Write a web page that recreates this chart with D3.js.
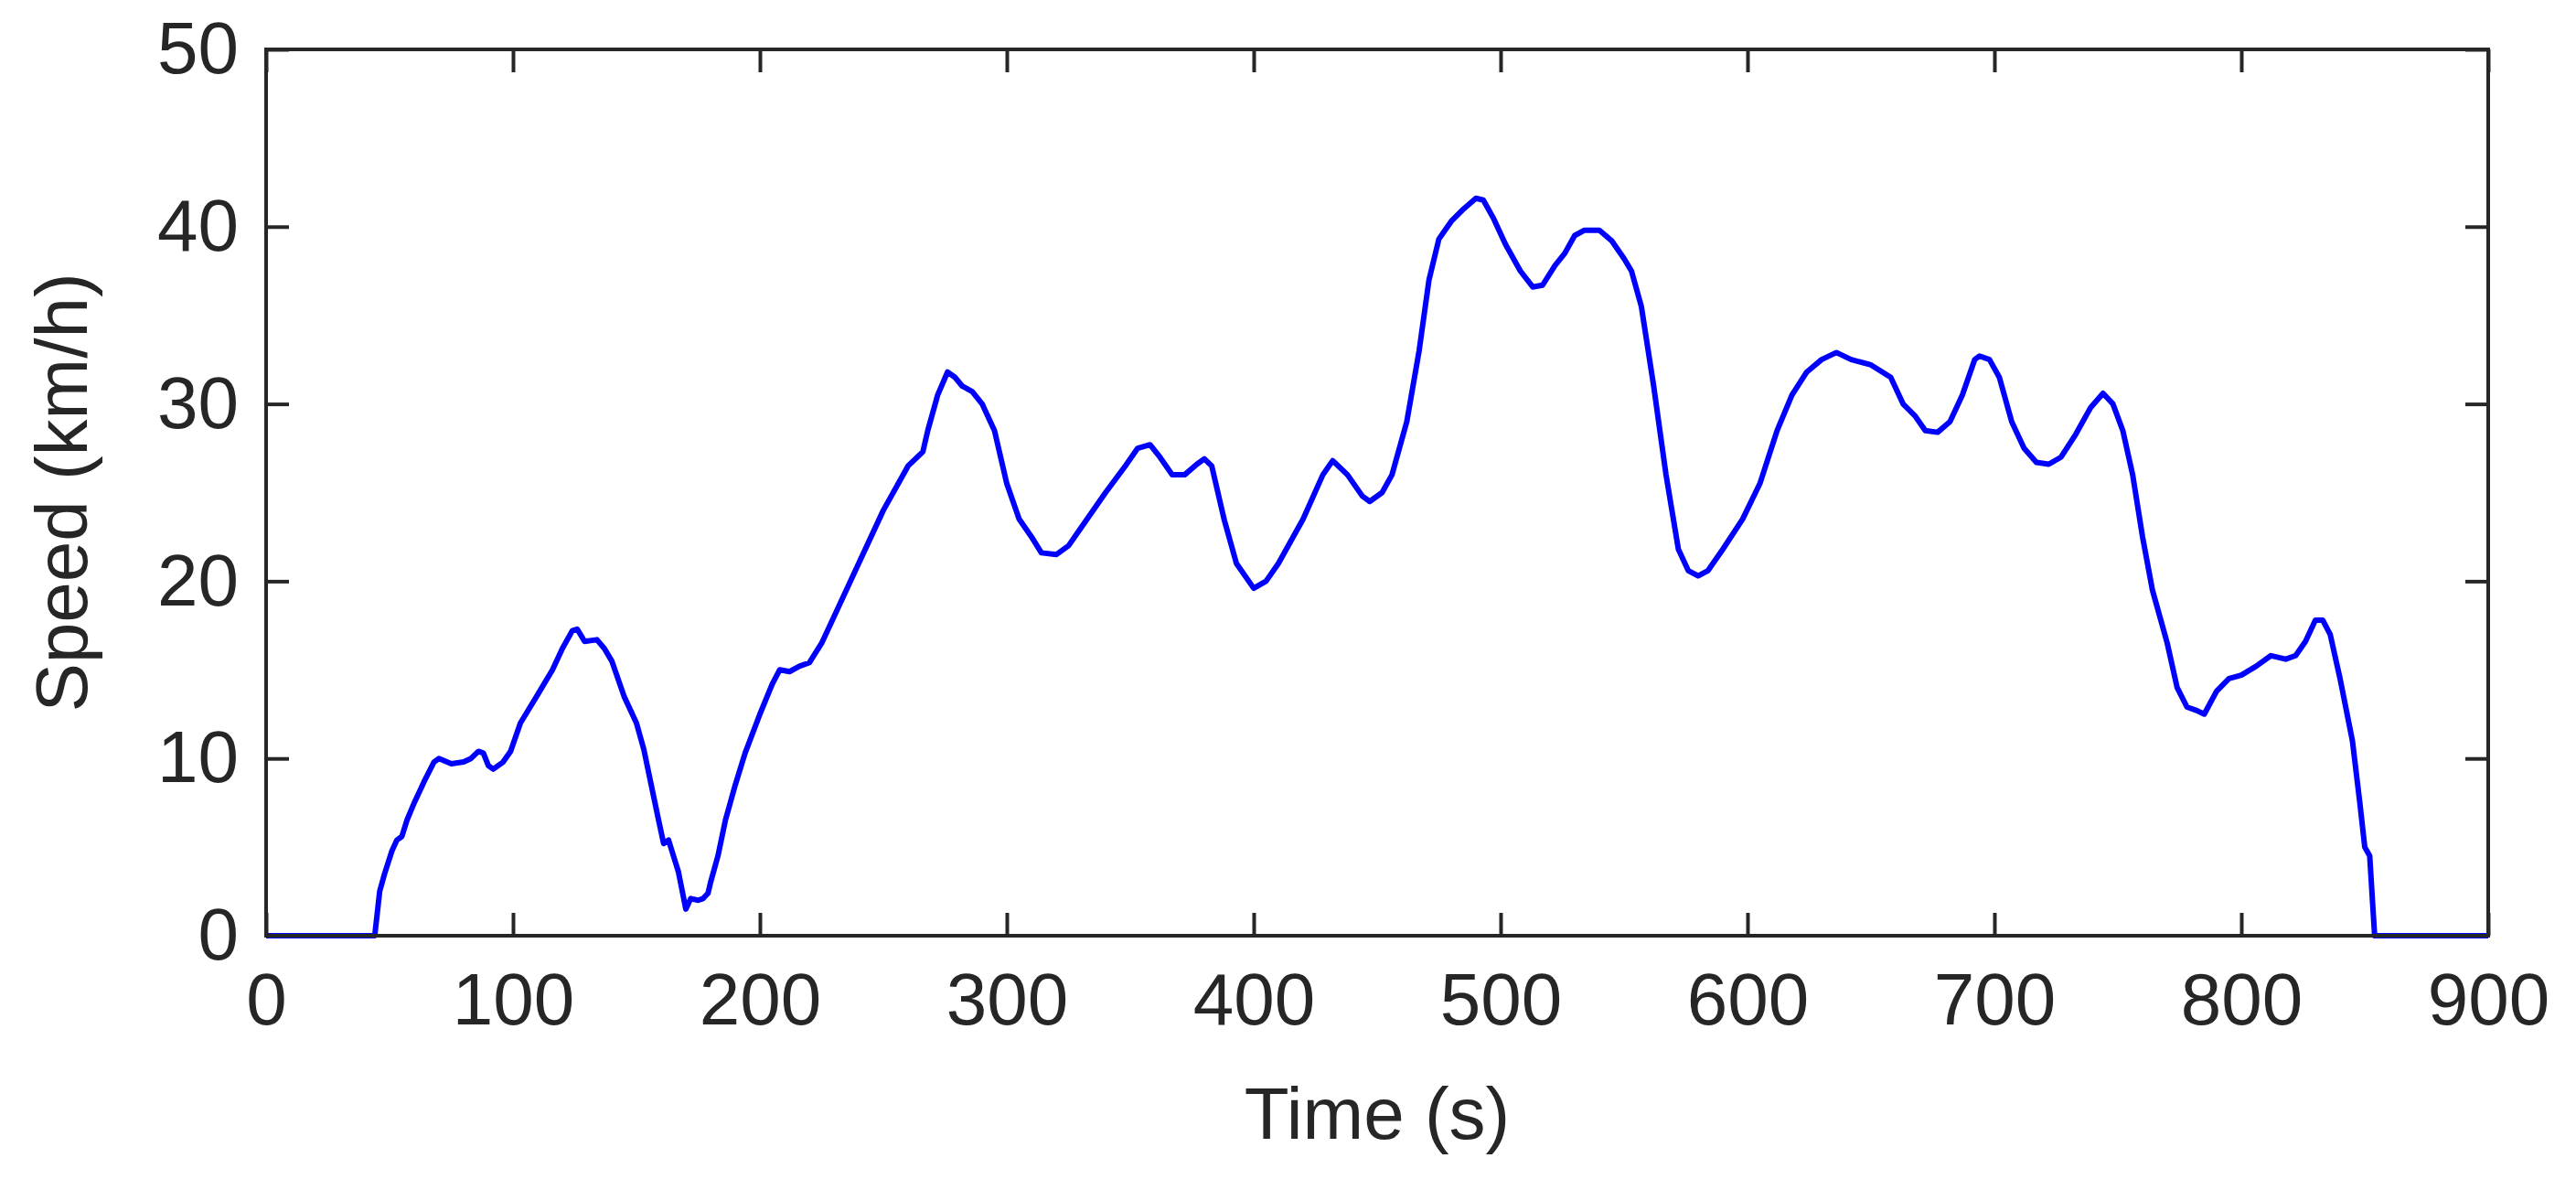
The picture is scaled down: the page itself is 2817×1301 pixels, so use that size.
<!DOCTYPE html><html><head><meta charset="utf-8"><script src="https://cdn.jsdelivr.net/npm/d3@7"></script>
<style>body{margin:0;background:#fff}text{font-family:"Liberation Sans",Arial,sans-serif;fill:#262626}</style></head><body><svg width="2817" height="1301"></svg><script>
const times=[0,44,46,48,51,53,55,57,60,64,68,70,75,80,83,86,88,90,92,96,99,103,110,116,120,124,126,129,134,137,140,145,150,153,156,159,161,163,165,167,170,172,175,177,179,180,183,186,190,194,200,205,208,212,216,220,225,230,240,250,260,266,268,272,276,279,282,286,290,295,300,305,310,314,320,325,330,340,348,353,358,362,367,372,377,380,383,388,393,400,405,410,420,428,432,438,444,447,452,456,462,467,471,475,480,485,490,493,497,502,508,513,517,522,526,530,534,540,545,550,553,557,562,567,572,576,580,584,590,598,605,612,618,624,630,636,642,650,658,663,668,672,677,682,687,692,694,698,702,707,712,717,722,727,733,739,744,748,752,756,760,764,767,770,774,778,782,785,790,795,800,806,812,818,822,826,830,833,836,840,845,848,850,852,854,900];
const speeds=[0,0,2.5,3.5,4.8,5.4,5.6,6.5,7.5,8.7,9.8,10,9.7,9.8,10,10.4,10.3,9.6,9.4,9.8,10.4,12,13.6,15,16.2,17.2,17.3,16.6,16.7,16.2,15.5,13.5,12,10.5,8.5,6.5,5.2,5.4,4.5,3.6,1.5,2.1,2,2.1,2.4,3,4.5,6.5,8.5,10.3,12.5,14.2,15,14.9,15.2,15.4,16.5,18,21,24,26.5,27.3,28.5,30.5,31.8,31.5,31,30.7,30,28.5,25.5,23.5,22.5,21.6,21.5,22,23,25,26.5,27.5,27.7,27,26,26,26.6,26.9,26.5,23.5,21,19.6,20,21,23.5,26,26.8,26,24.8,24.5,25,26,29,33,37,39.3,40.3,41,41.6,41.5,40.5,39,37.5,36.6,36.7,37.8,38.5,39.5,39.8,39.8,39.2,38.2,37.5,35.5,31,26,21.8,20.6,20.3,20.6,21.8,23.5,25.5,28.5,30.5,31.8,32.5,32.9,32.5,32.2,31.5,30,29.3,28.5,28.4,29,30.5,32.5,32.7,32.5,31.5,29,27.5,26.7,26.6,27,28.3,29.8,30.6,30,28.5,26,22.5,19.5,18,16.5,14,12.9,12.7,12.5,13.8,14.5,14.7,15.2,15.8,15.6,15.8,16.6,17.8,17.8,17,14.5,11,7.5,5,4.5,0,0];
const xTicks=[0,100,200,300,400,500,600,700,800,900];
const yTicks=[0,10,20,30,40,50];
const L=291,R=2721,T=54,B=1023;
const svg=d3.select("svg");
const x=d3.scaleLinear().domain([0,900]).range([L,R]);
const y=d3.scaleLinear().domain([0,50]).range([B,T]);
const ax=(g)=>g.call(s=>{s.select(".domain").remove();s.selectAll("line").attr("stroke","#262626").attr("stroke-width",4);});
svg.append("g").attr("transform",`translate(0,${B})`).call(d3.axisBottom(x).tickValues(xTicks).tickSize(-25).tickPadding(40)).call(ax).selectAll("text").attr("font-size",80).attr("fill","#262626");
svg.append("g").attr("transform",`translate(0,${T})`).call(d3.axisTop(x).tickValues(xTicks).tickSize(-25).tickFormat("")).call(ax);
svg.append("g").attr("transform",`translate(${L},0)`).call(d3.axisLeft(y).tickValues(yTicks).tickSize(-25).tickPadding(30)).call(ax).selectAll("text").attr("font-size",80).attr("fill","#262626");
svg.append("g").attr("transform",`translate(${R},0)`).call(d3.axisRight(y).tickValues(yTicks).tickSize(-25).tickFormat("")).call(ax);
svg.selectAll(".tick text").style("font-family","Liberation Sans, Arial").style("fill","#262626");
const data=times.map((t,i)=>[t,speeds[i]]);
svg.append("path").datum(data).attr("fill","none").attr("stroke","#0000ff").attr("stroke-width",6).attr("stroke-linejoin","round").attr("d",d3.line().x(d=>x(d[0])).y(d=>y(d[1])));
svg.append("rect").attr("x",L).attr("y",T).attr("width",R-L).attr("height",B-T).attr("fill","none").attr("stroke","#262626").attr("stroke-width",4);
svg.append("text").attr("x",(L+R)/2).attr("y",1245).attr("text-anchor","middle").attr("font-size",80).text("Time (s)");
svg.append("text").attr("transform",`translate(95,${(T+B)/2}) rotate(-90)`).attr("text-anchor","middle").attr("font-size",80).text("Speed (km/h)");
</script></body></html>
